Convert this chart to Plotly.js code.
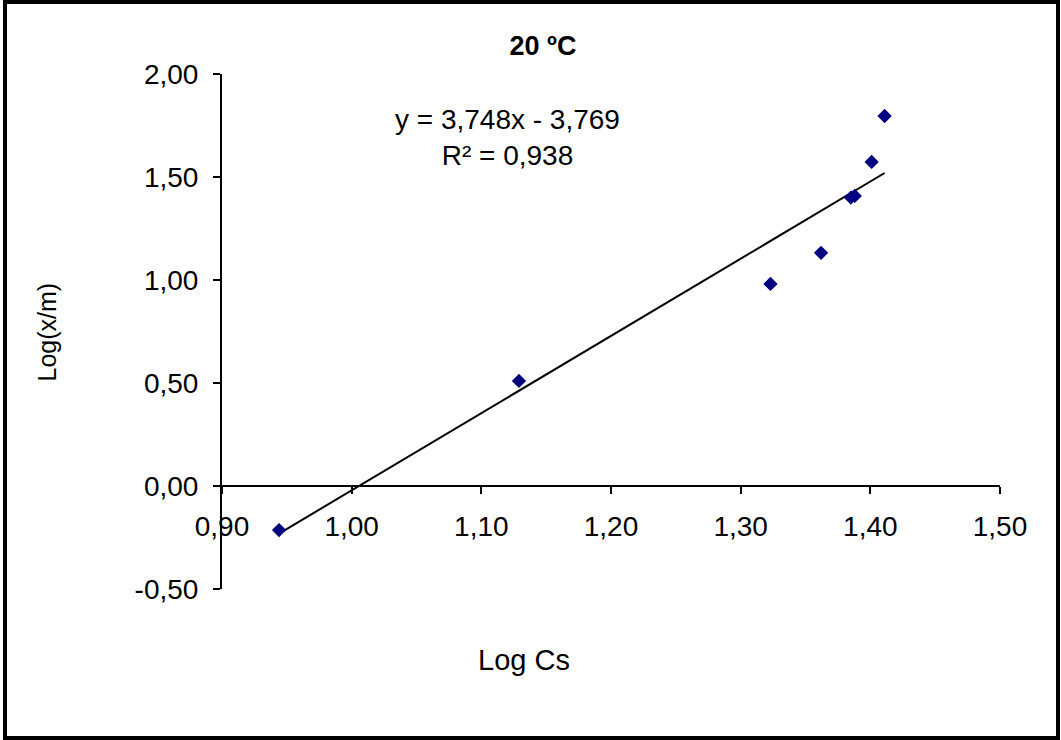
<!DOCTYPE html>
<html>
<head>
<meta charset="utf-8">
<script src="https://cdn.plot.ly/plotly-3.0.1.min.js"></script>
<style>
html,body{margin:0;padding:0;background:#fff;}
#frame{position:absolute;left:3px;top:0;width:1057px;height:740px;box-sizing:border-box;border:4px solid #000;background:#fff;}
#chart{position:absolute;left:0;top:0;width:1049px;height:732px;}
</style>
</head>
<body>
<div id="frame"><div id="chart"></div></div>
<script>
// Data
const logCs = [0.944, 1.129, 1.323, 1.362, 1.385, 1.388, 1.401, 1.411];
const logXm = [-0.214, 0.510, 0.981, 1.132, 1.400, 1.408, 1.573, 1.796];
// Trendline coefficients as printed on the chart
const slope = [3.748];
const intercept = [-3.769];
const r2 = ["0,938"];
const xTickVals = [0.90, 1.00, 1.10, 1.20, 1.30, 1.40, 1.50];
const xTickText = ["0,90", "1,00", "1,10", "1,20", "1,30", "1,40", "1,50"];
const yTickVals = [-0.5, 0, 0.5, 1.0, 1.5, 2.0];
const yTickText = ["-0,50", "0,00", "0,50", "1,00", "1,50", "2,00"];

const xMin = Math.min(...logCs), xMax = Math.max(...logCs);
const lineX = [xMin, xMax];
const lineY = lineX.map(v => slope[0] * v + intercept[0]);

const yRange = [-0.5, 2.0];
const xAxisPos = (0 - yRange[0]) / (yRange[1] - yRange[0]);
const font = "Liberation Sans, Arial, sans-serif";

const traces = [
  {x: lineX, y: lineY, mode: 'lines', line: {color: '#000', width: 2}, hoverinfo: 'skip'},
  {x: logCs, y: logXm, mode: 'markers', marker: {symbol: 'diamond', size: 11, color: '#000080'}}
];

const layout = {
  width: 1049, height: 732,
  margin: {l: 215, r: 56, t: 70, b: 147},
  paper_bgcolor: '#fff', plot_bgcolor: '#fff',
  showlegend: false,
  font: {family: font, size: 28, color: '#000'},
  title: {text: '<b>20 ºC</b>', font: {family: font, size: 27, color: '#000'},
          xref: 'paper', x: 0.4126, xanchor: 'center', yref: 'container', y: 0.943, yanchor: 'middle'},
  xaxis: {range: [0.9, 1.5], tickvals: xTickVals, ticktext: xTickText,
          showgrid: false, zeroline: false, showline: true, linecolor: '#000', linewidth: 2,
          ticks: 'outside', ticklen: 7, tickwidth: 2, tickcolor: '#000',
          anchor: 'free', position: xAxisPos, ticklabelstandoff: 8,
          tickfont: {family: font, size: 28, color: '#000'}},
  yaxis: {range: yRange, tickvals: yTickVals, ticktext: yTickText,
          showgrid: false, zeroline: false, showline: true, linecolor: '#000', linewidth: 2,
          ticks: 'outside', ticklen: 7, tickwidth: 2, tickcolor: '#000',
          ticklabelstandoff: 9,
          tickfont: {family: font, size: 28, color: '#000'}},
  annotations: [
    {text: 'y = ' + String(slope[0]).replace('.', ',') + 'x - ' + String(Math.abs(intercept[0])).replace('.', ',') + '<br>R² = ' + r2[0],
     xref: 'paper', yref: 'paper', x: 0.3676, y: 0.876, xanchor: 'center', yanchor: 'middle',
     showarrow: false, font: {family: font, size: 28, color: '#000'}},
    {text: 'Log Cs', xref: 'paper', yref: 'paper', x: 0.388, y: -0.138, xanchor: 'center', yanchor: 'middle',
     showarrow: false, font: {family: font, size: 29, color: '#000'}},
    {text: 'Log(x/m)', xref: 'paper', yref: 'paper', x: -0.225, y: 0.5, xanchor: 'center', yanchor: 'middle',
     textangle: -90, showarrow: false, font: {family: font, size: 25, color: '#000'}}
  ]
};

Plotly.newPlot('chart', traces, layout, {displayModeBar: false, staticPlot: true});
</script>
</body>
</html>
